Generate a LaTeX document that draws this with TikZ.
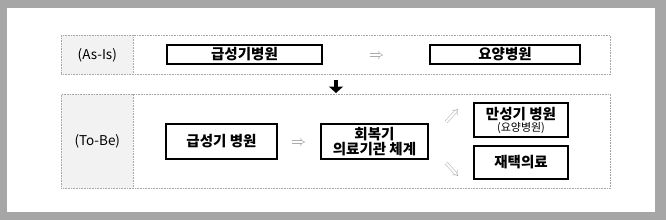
\documentclass[tikz,border=0pt]{standalone}
\usepackage{fontspec}
\setmainfont{Noto Sans CJK KR}
\usetikzlibrary{arrows.meta, positioning}
\definecolor{framegray}{HTML}{A6A6A6}
\definecolor{cellgray}{HTML}{F2F2F2}

\begin{document}
\begin{tikzpicture}[x=1pt, y=-1pt, font=\fontsize{13.5}{15}\selectfont,
  rowbox/.style={draw=gray!70, densely dotted, line width=0.6pt, fill=white, inner sep=0pt, anchor=north west},
  labelcell/.style={rowbox, fill=cellgray, minimum width=72pt},
  item/.style={draw, line width=1.3pt, fill=white, align=center, inner sep=0pt, font=\fontsize{14.5}{16}\selectfont\bfseries},
  flow/.style={draw=gray!65, double, double distance=2.2pt, line width=0.5pt, -{Implies}}]

  % page frame
  \fill[framegray] (0,0) rectangle (666,220);
  \fill[white] (7,8) rectangle (655,212);

  % As-Is row
  \node[rowbox, minimum width=549pt, minimum height=39pt] (asis) at (61,35) {};
  \node[labelcell, minimum height=39pt] (asislab) at (61,35) {};
  \node at (asislab.center) {(As-Is)};
  \node[item, minimum width=155pt, minimum height=19pt] (acute) at (244.5,54.5) {급성기병원};
  \node[item, minimum width=150pt, minimum height=19pt] (nursing) at (505,54.5) {요양병원};

  % To-Be row
  \node[rowbox, minimum width=549pt, minimum height=94pt] (tobe) at (61,94) {};
  \node[labelcell, minimum height=94pt] (tobelab) at (61,94) {};
  \node at (tobelab.center) {(To-Be)};
  \node[item, minimum width=111pt, minimum height=35pt] (acute2) at (221.5,141.5) {급성기 병원};
  \node[item, minimum width=107pt, minimum height=35pt, font=\fontsize{14.5}{15}\selectfont\bfseries] (recovery) at (374.5,141.5) {회복기\\의료기관 체계};
  \node[item, minimum width=94pt, minimum height=34pt] (chronic) at (521,120) {만성기 병원\\[-4pt]{\mdseries\fontsize{11}{11}\selectfont (요양병원)}};
  \node[item, minimum width=94pt, minimum height=33pt] (home) at (521,162.5) {재택의료};

  % flow marks
  \foreach \xa/\ya/\xb/\yb in {370/55/383/55, 292/142/305/142, 446/122/458/109, 446/163/458/176} {
    \draw[flow] (\xa,\ya) -- (\xb,\yb);
  }

  % step arrow
  \coordinate (dtop) at (336,80);
  \draw[-{Triangle[length=6.5pt, width=14pt]}, line width=4.5pt, shorten >=1pt] (dtop) -- (dtop |- tobe.north);
\end{tikzpicture}
\end{document}
